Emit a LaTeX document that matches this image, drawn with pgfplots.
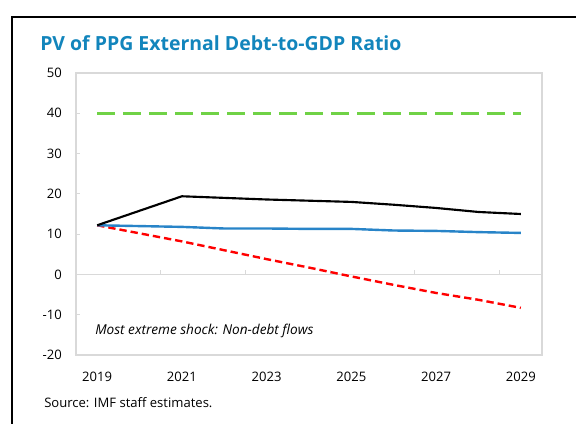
\documentclass[border=0pt]{standalone}
\usepackage{pgfplots}
\pgfplotsset{compat=1.18}
\usepackage{fontspec}
\setmainfont{Open Sans}
\definecolor{titleblue}{RGB}{18,133,188}
\definecolor{lgreen}{RGB}{112,210,70}
\definecolor{lblue}{RGB}{40,132,200}
\definecolor{axgray}{RGB}{217,217,217}
\begin{document}
\begin{tikzpicture}
\useasboundingbox (0,0) rectangle (432pt,318pt);
\draw[line width=1.3pt] (9pt,0) -- (9pt,305.5pt) -- (432pt,305.5pt);
\node[anchor=base west, inner sep=0, text=titleblue, font=\fontsize{14.6pt}{16pt}\selectfont\bfseries] at (30pt,279.8pt) {PV of PPG External Debt-to-GDP Ratio};
\node[anchor=base west, inner sep=0, font=\fontsize{9.8pt}{11pt}\selectfont] at (33pt,12.5pt) {Source: IMF staff estimates.};
\begin{axis}[
  at={(57pt,51.75pt)}, anchor=south west,
  scale only axis, width=349.5pt, height=211.5pt,
  xmin=2018.5, xmax=2029.5, ymin=-20, ymax=50,
  xtick={2019,2021,2023,2025,2027,2029},
  xticklabels={2019,2021,2023,2025,2027,2029},
  ytick={-20,-10,0,10,20,30,40,50},
  axis line style={axgray, line width=0.8pt},
  xtick style={draw=none},
  ytick pos=left, tick align=inside,
  ytick style={axgray, line width=0.8pt},
  major tick length=3pt,
  /pgf/number format/assume math mode=true,
  tick label style={font=\fontsize{9.8pt}{11pt}\selectfont},
  xticklabel style={anchor=base, yshift=-20pt},
  yticklabel style={anchor=east, inner sep=0pt, xshift=-10.5pt},
  /pgf/number format/.cd, use comma=false, 1000 sep={},
]
\draw[axgray, line width=0.8pt] (axis cs:2018.5,0) -- (axis cs:2029.5,0);
\draw[axgray, line width=0.8pt] (axis cs:2020.5,0) -- (axis cs:2020.5,1.2);
\draw[axgray, line width=0.8pt] (axis cs:2022.5,0) -- (axis cs:2022.5,1.2);
\draw[axgray, line width=0.8pt] (axis cs:2024.5,0) -- (axis cs:2024.5,1.2);
\draw[axgray, line width=0.8pt] (axis cs:2026.5,0) -- (axis cs:2026.5,1.2);
\draw[axgray, line width=0.8pt] (axis cs:2028.5,0) -- (axis cs:2028.5,1.2);
\addplot[lgreen, line width=2pt, dash pattern=on 13.5pt off 6pt] coordinates {
(2019,40) (2020,40) (2021,40) (2022,40) (2023,40) (2024,40) (2025,40) (2026,40) (2027,40) (2028,40) (2029,40)};
\addplot[red, line width=1.8pt, dash pattern=on 5.5pt off 3pt] coordinates {
(2019,12.2) (2020,10.2) (2021,8.2) (2022,6.0) (2023,3.8) (2024,1.7) (2025,-0.5) (2026,-2.6) (2027,-4.6) (2028,-6.3) (2029,-8.3)};
\addplot[lblue, line width=1.8pt] coordinates {
(2019,12.2) (2020,12.0) (2021,11.8) (2022,11.4) (2023,11.4) (2024,11.3) (2025,11.3) (2026,10.9) (2027,10.8) (2028,10.5) (2029,10.3)};
\addplot[black, line width=1.6pt] coordinates {
(2019,12.2) (2020,15.8) (2021,19.4) (2022,19.0) (2023,18.6) (2024,18.3) (2025,18.0) (2026,17.3) (2027,16.5) (2028,15.5) (2029,15.0)};
\node[anchor=base west, inner sep=0, font=\fontsize{10.2pt}{12pt}\selectfont\itshape] at (axis cs:2018.95,-14.8) {Most extreme shock: Non-debt flows};
\end{axis}
\end{tikzpicture}
\end{document}
